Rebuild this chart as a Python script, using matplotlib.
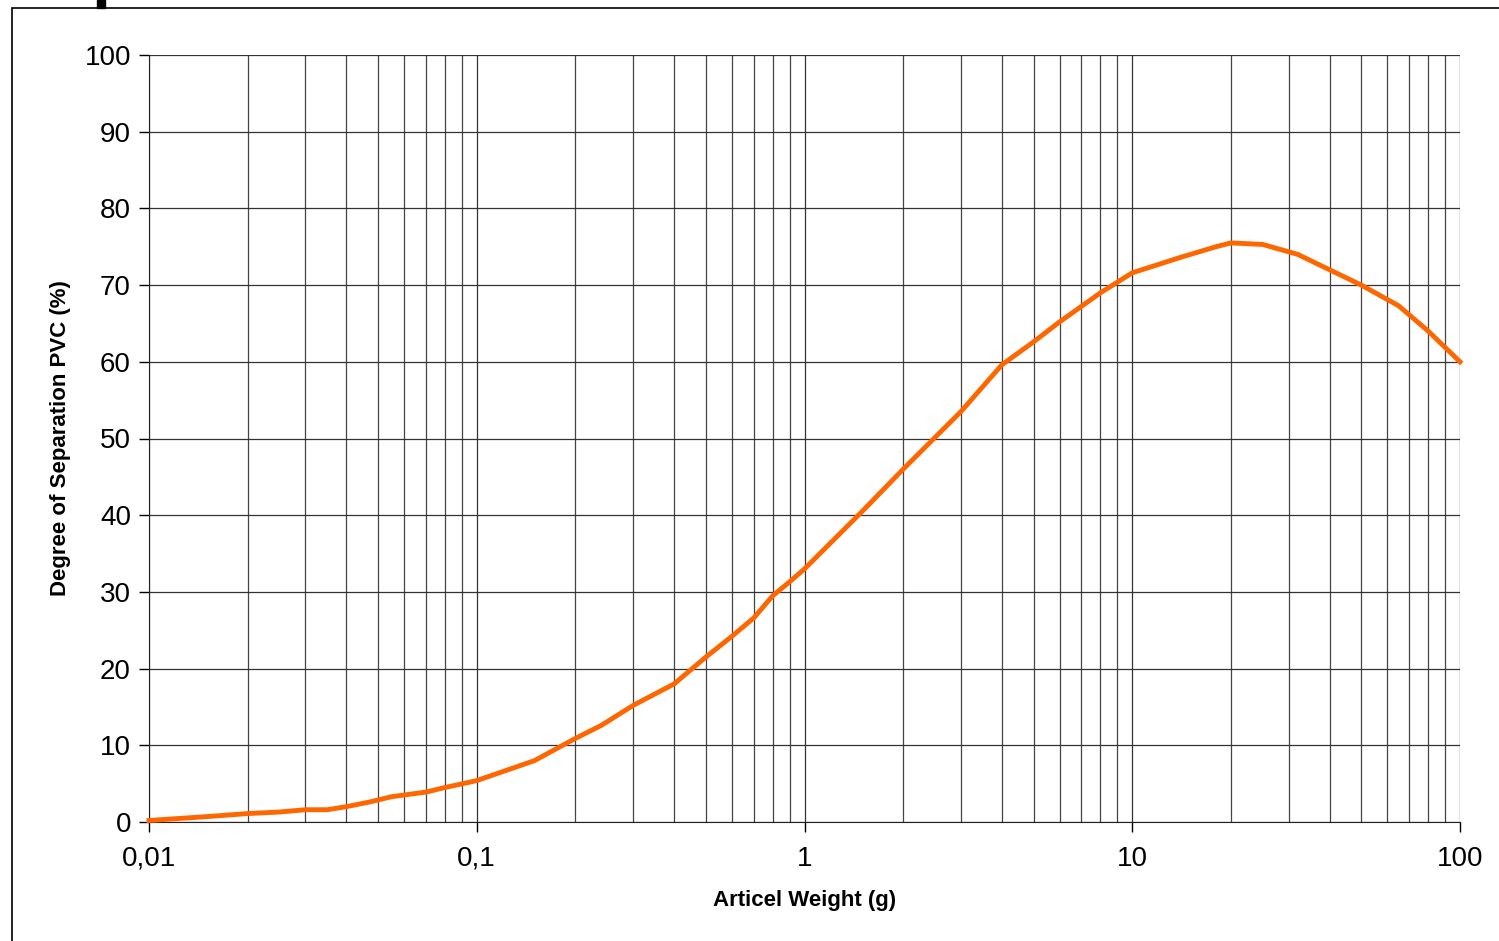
import matplotlib.pyplot as plt
from matplotlib.patches import Rectangle
from matplotlib.ticker import FixedLocator, FixedFormatter, LogLocator, NullFormatter

plt.rcParams['font.family'] = ['Liberation Sans', 'DejaVu Sans']

# Datos
peso = [0.01, 0.015, 0.02, 0.025, 0.03, 0.035, 0.04, 0.047, 0.055, 0.07, 0.08, 0.093, 0.1,
        0.15, 0.2, 0.24, 0.3, 0.4, 0.5, 0.6, 0.7, 0.8, 0.9, 1.0, 1.5, 2.0, 3.0, 4.0, 5.0, 6.0,
        8.0, 10.0, 14.0, 18.0, 20.0, 25.0, 32.0, 40.0, 50.0, 65.0, 80.0, 100.0]
separacion = [0.2, 0.7, 1.1, 1.3, 1.6, 1.6, 2.0, 2.6, 3.3, 3.9, 4.5, 5.1, 5.4,
              8.0, 10.9, 12.6, 15.2, 18.0, 21.5, 24.2, 26.6, 29.5, 31.3, 33.0, 40.5, 46.0, 53.5,
              59.6, 62.6, 65.2, 69.0, 71.6, 73.6, 75.0, 75.5, 75.3, 74.0, 72.0, 70.0, 67.3,
              64.0, 60.0]

xticks = [0.01, 0.1, 1, 10, 100]
xtick_labels = ['0,01', '0,1', '1', '10', '100']
yticks = list(range(0, 101, 10))

fig = plt.figure(figsize=(14.99, 9.41), dpi=100)
ax = fig.add_axes([149 / 1499, 1 - 822 / 941, (1460 - 149) / 1499, (822 - 55) / 941])

ax.plot(peso, separacion, color='#FF6600', lw=3.5, solid_joinstyle='round', zorder=3, clip_on=False)

ax.set_xscale('log')
ax.set_xlim(0.01, 100)
ax.set_ylim(0, 100)
ax.xaxis.set_major_locator(FixedLocator(xticks))
ax.xaxis.set_major_formatter(FixedFormatter(xtick_labels))
ax.xaxis.set_minor_locator(LogLocator(base=10, subs=range(2, 10)))
ax.xaxis.set_minor_formatter(NullFormatter())
ax.set_yticks(yticks)

ax.grid(True, which='major', color='#333333', lw=0.9)
ax.grid(True, which='minor', axis='x', color='#444444', lw=0.9)
ax.tick_params(axis='both', which='major', length=7, width=1, labelsize=20, pad=6)
ax.tick_params(axis='x', which='minor', length=0)
ax.tick_params(axis='x', pad=10)

for s in ['top', 'right']:
    ax.spines[s].set_visible(False)
ax.spines['left'].set_color('#222222')
ax.spines['bottom'].set_color('#222222')

ax.set_xlabel('Articel Weight (g)', fontsize=16, fontweight='bold', labelpad=13)
ax.set_ylabel('Degree of Separation PVC (%)', fontsize=16, fontweight='bold', labelpad=10)

# Marco de la figura
fig.patches.append(Rectangle((12 / 1499, -0.1), 1.2, 1 - 8 / 941 + 0.1, transform=fig.transFigure,
                             fill=False, edgecolor='black', lw=1.2))
fig.patches.append(Rectangle((97 / 1499, 1 - 8 / 941), 8 / 1499, 8 / 941, transform=fig.transFigure,
                             color='black'))

fig.savefig('out.png', dpi=100)
